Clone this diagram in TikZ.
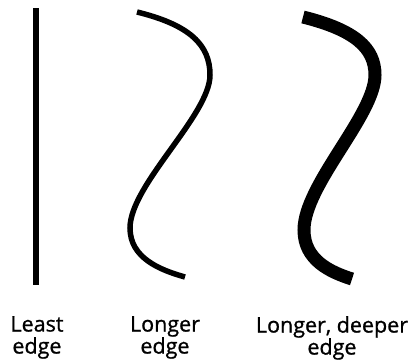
\documentclass[tikz,border=0pt]{standalone}
\usepackage{fontspec}
\setmainfont{Open Sans}[FakeBold=1]
\begin{document}
\begin{tikzpicture}[x=1pt,y=-1pt,
  thinstroke/.style={line width=5.5pt},
  thickstroke/.style={line width=13pt},
  caption/.style={align=center,font=\fontsize{21.5}{22}\selectfont,inner sep=0pt,anchor=north}]
\useasboundingbox (0,0) rectangle (417,360);
\coordinate (a1) at (36,8);
\coordinate (a2) at (36,285);
\draw[thinstroke] (a1) -- (a2);
\draw[thinstroke] (137,12) .. controls (190,25) and (210,45) .. (210,75)
  .. controls (210,115) and (130,185) .. (130,228)
  .. controls (130,258) and (160,270) .. (185,277);
\draw[thickstroke] (303,17) .. controls (355,30) and (375,48) .. (375,75)
  .. controls (375,115) and (304,185) .. (304,230)
  .. controls (304,260) and (330,272) .. (352,279);
\node[caption] (t1) at (37,316) {Least\\edge};
\node[caption] (t2) at (165,316) {Longer\\edge};
\node[caption] (t3) at (332,316) {Longer, deeper\\edge};
\end{tikzpicture}
\end{document}
